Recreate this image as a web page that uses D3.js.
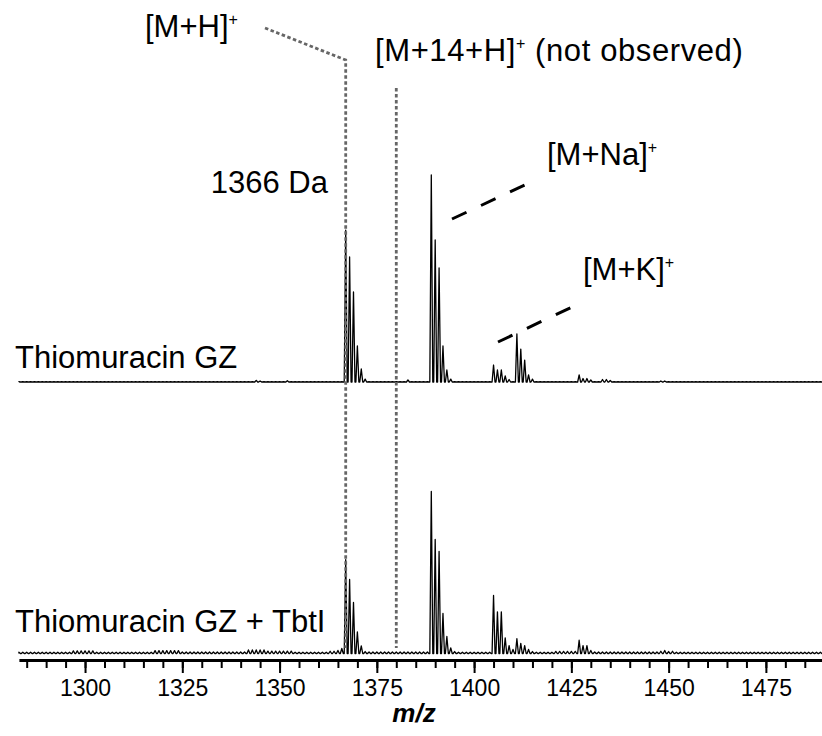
<!DOCTYPE html>
<html lang="en">
<head>
<meta charset="utf-8">
<title>Thiomuracin GZ MALDI spectra</title>
<script src="https://cdn.jsdelivr.net/npm/d3@7"></script>
<style>
  body { margin: 0; background: #fff; }
  svg text { font-family: "Liberation Sans", Arial, sans-serif; fill: #000; }
  .label { font-size: 31px; }
  .trace { fill: none; stroke: #000; stroke-width: 1.3; stroke-linejoin: round; }
  .dotted { fill: none; stroke: #666; stroke-width: 2.8; stroke-dasharray: 3.5 2.5; }
  .leader { stroke: #000; stroke-width: 3; stroke-dasharray: 16 16; }
</style>
</head>
<body>
<svg width="822" height="736"></svg>
<script>
// m/z range and tick labels
var xDomain = [1283, 1489.5];
var majorTicks = [1300, 1325, 1350, 1375, 1400, 1425, 1450, 1475];

// top spectrum: Thiomuracin GZ  [m/z, relative intensity]
var topPeaks = [
  [1344, 0.8], [1345, 0.5], [1352, 0.6], [1383, 1.0],
  [1367, 73.4], [1368, 60.4], [1369, 43.5], [1370, 17.4], [1371, 6.3], [1372, 1.4],
  [1389, 100], [1390, 68.6], [1391, 55.1], [1392, 17.4], [1393, 5.8], [1394, 1.4],
  [1405, 8.2], [1406, 5.8], [1407, 5.8], [1408, 2.9], [1409, 1.2],
  [1411, 23.2], [1412, 15.9], [1413, 10.6], [1414, 3.4], [1415, 1.4],
  [1427, 3.4], [1428, 1.7], [1429, 1.7], [1430, 1.0],
  [1433, 1.2], [1434, 1.2], [1435, 0.7], [1448, 0.5], [1449, 0.5]
];
// baseline noise level of the top trace [from, to, level]
var topNoise = [[1283, 1489, 0.12]];

// bottom spectrum: Thiomuracin GZ + TbtI
var botPeaks = [
  [1365, 1.9], [1366, 3.1],
  [1367, 58], [1368, 45.7], [1369, 31.5], [1370, 13.3], [1371, 4.7], [1372, 1.2],
  [1389, 100], [1390, 70.4], [1391, 63], [1392, 24.7], [1393, 10.5], [1394, 3.5], [1395, 1.2],
  [1405, 35.8], [1406, 25.7], [1407, 25.7], [1408, 9.7], [1409, 4.9], [1410, 2.5],
  [1411, 9.1], [1412, 6.2], [1413, 4.9], [1414, 2.5], [1415, 1.2],
  [1427, 8.2], [1428, 4.9], [1429, 4.9], [1430, 1.9],
  [1449, 1.9], [1450, 1.2]
];
var botNoise = [
  [1283, 1296, 0.8], [1297, 1302, 1.6], [1303, 1317, 0.8], [1318, 1324, 1.8],
  [1325, 1341, 0.9], [1342, 1346, 2.2], [1347, 1353, 1.5], [1354, 1362, 0.8],
  [1363, 1364, 1.4], [1373, 1388, 0.9], [1396, 1404, 0.8], [1416, 1420, 0.8],
  [1421, 1426, 1.3], [1431, 1447, 0.9], [1448, 1451, 1.4], [1452, 1489, 0.8]
];

// reference lines
var mhMz = 1367, m14Mz = 1380;

var svg = d3.select('svg');
var x = d3.scaleLinear().domain(xDomain).range([18.9, 822.3]);
var yTop = d3.scaleLinear().domain([0, 100]).range([382, 175]);
var yBot = d3.scaleLinear().domain([0, 100]).range([653.5, 491.5]);
var halfWidth = 0.38;

function buildTrace(peaks, noise) {
  var byMz = new Map(peaks.map(function(p){ return [p[0], p[1]]; }));
  noise.forEach(function(s){
    for (var m = s[0]; m <= s[1]; m++) {
      if (!byMz.has(m)) byMz.set(m, s[2]);
    }
  });
  var list = Array.from(byMz.entries()).sort(function(a, b){ return a[0] - b[0]; });
  var pts = [[xDomain[0], 0]];
  list.forEach(function(p){
    pts.push([p[0] - halfWidth, 0], [p[0], p[1]], [p[0] + halfWidth, 0]);
  });
  pts.push([xDomain[1], 0]);
  return pts.filter(function(p){ return p[0] >= xDomain[0] && p[0] <= xDomain[1]; });
}

function drawTrace(peaks, noise, y) {
  var line = d3.line()
    .x(function(d){ return x(d[0]); })
    .y(function(d){ return y(d[1]); });
  svg.append('path')
    .attr('class', 'trace')
    .attr('d', line(buildTrace(peaks, noise)));
}

drawTrace(topPeaks, topNoise, yTop);
drawTrace(botPeaks, botNoise, yBot);

// dotted guides
svg.append('path')
  .attr('class', 'dotted')
  .attr('d', 'M265,28L' + x(mhMz) + ',60L' + x(mhMz) + ',648');
svg.append('path')
  .attr('class', 'dotted')
  .attr('d', 'M' + x(m14Mz) + ',88L' + x(m14Mz) + ',648');

// dashed leaders
svg.append('line').attr('class', 'leader')
  .attr('x1', 452).attr('y1', 219).attr('x2', 525).attr('y2', 185);
svg.append('line').attr('class', 'leader')
  .attr('x1', 498).attr('y1', 342).attr('x2', 572).attr('y2', 307);

// axis
var axisG = svg.append('g').attr('transform', 'translate(0,660)');
axisG.call(d3.axisBottom(x)
  .tickValues(d3.range(1285, 1489, 5))
  .tickSize(8).tickSizeOuter(0).tickFormat(''));
axisG.select('.domain').attr('stroke-width', 3);
axisG.selectAll('.tick line').attr('stroke-width', 2);

var majorG = svg.append('g').attr('transform', 'translate(0,660)');
majorG.call(d3.axisBottom(x)
  .tickValues(majorTicks)
  .tickFormat(d3.format('d'))
  .tickSize(13).tickPadding(7).tickSizeOuter(0));
majorG.select('.domain').remove();
majorG.selectAll('.tick line').attr('stroke-width', 2);
majorG.selectAll('.tick text').style('font-size', '23px').attr('fill', '#000');

svg.append('text')
  .attr('x', 414).attr('y', 722)
  .attr('text-anchor', 'middle')
  .style('font-size', '26px').style('font-weight', 'bold').style('font-style', 'italic')
  .text('m/z');

// labels
function ionLabel(x0, y0, main, rest) {
  var t = svg.append('text').attr('class', 'label').attr('x', x0).attr('y', y0);
  t.append('tspan').text(main);
  t.append('tspan').attr('dy', -12).style('font-size', '16px').text('+');
  if (rest) t.append('tspan').attr('dy', 12).text(rest);
  return t;
}
ionLabel(145, 37, '[M+H]');
ionLabel(375, 61, '[M+14+H]', ' (not observed)').style('letter-spacing', '0.6px');
ionLabel(547, 165, '[M+Na]');
ionLabel(583, 280, '[M+K]');

svg.append('text').attr('class', 'label')
  .attr('x', 328).attr('y', 193).attr('text-anchor', 'end')
  .text('1366 Da');
svg.append('text').attr('class', 'label')
  .attr('x', 15).attr('y', 368).text('Thiomuracin GZ');
svg.append('text').attr('class', 'label')
  .attr('x', 15).attr('y', 632).text('Thiomuracin GZ + TbtI');
</script>
</body>
</html>
